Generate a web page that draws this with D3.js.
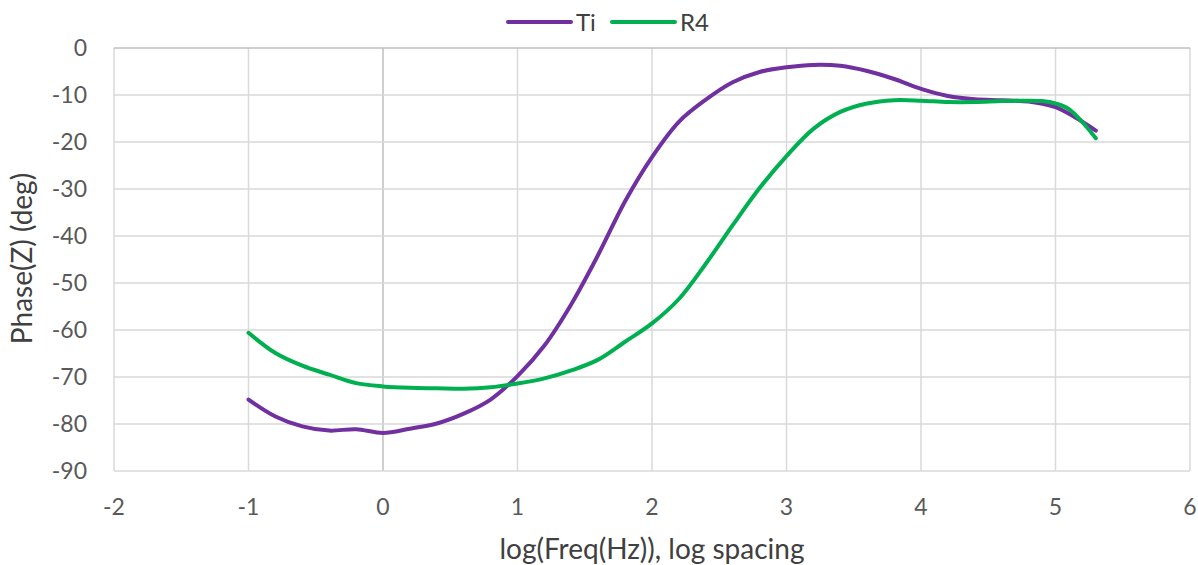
<!DOCTYPE html>
<html><head><meta charset="utf-8">
<script src="https://cdn.jsdelivr.net/npm/d3@7"></script>
<style>
html,body{margin:0;padding:0;background:#fff;}
svg{display:block;font-family:Lato,"Open Sans",sans-serif;}
</style></head>
<body><svg id="chart" width="1198" height="565"></svg>
<script>
const seriesNames = ["Ti", "R4"];
const seriesColors = ["#7030a0", "#00b050"];
const tiX = [-1.0,-0.8,-0.6,-0.4,-0.2,0.0,0.2,0.4,0.6,0.8,1.0,1.2,1.4,1.6,1.8,2.0,2.2,2.4,2.6,2.8,3.0,3.2,3.4,3.6,3.8,4.0,4.2,4.4,4.6,4.8,5.0,5.1,5.2,5.3];
const tiY = [-74.8,-78.4,-80.5,-81.4,-81.1,-81.9,-81.0,-79.9,-77.8,-74.8,-69.8,-63.3,-54.5,-44.0,-32.6,-23.2,-15.7,-11.0,-7.3,-5.1,-4.1,-3.6,-3.8,-4.9,-6.6,-8.7,-10.2,-10.9,-11.1,-11.4,-12.6,-14.0,-15.7,-17.6];
const r4X = [-1.0,-0.8,-0.6,-0.4,-0.2,0.0,0.2,0.4,0.6,0.8,1.0,1.2,1.4,1.6,1.8,2.0,2.2,2.4,2.6,2.8,3.0,3.2,3.4,3.6,3.8,4.0,4.2,4.4,4.6,4.8,4.9,5.0,5.1,5.2,5.3];
const r4Y = [-60.6,-64.9,-67.6,-69.5,-71.3,-72.0,-72.3,-72.4,-72.5,-72.2,-71.4,-70.3,-68.6,-66.3,-62.5,-58.6,-53.4,-45.9,-37.7,-29.8,-23.0,-17.2,-13.6,-11.8,-11.1,-11.2,-11.5,-11.5,-11.3,-11.2,-11.3,-11.8,-13.0,-15.8,-19.2];
const xTicks = [-2,-1,0,1,2,3,4,5,6];
const yTicks = [0,-10,-20,-30,-40,-50,-60,-70,-80,-90];
const xTitle = "log(Freq(Hz)), log spacing";
const yTitle = "Phase(Z) (deg)";

const svg = d3.select("#chart");
const m = {left:114, right:1190, top:48, bottom:471};
const x = d3.scaleLinear().domain([-2,6]).range([m.left, m.right]);
const y = d3.scaleLinear().domain([-90,0]).range([m.bottom, m.top]);

// gridlines
const g = svg.append("g");
g.selectAll(".vg").data(xTicks).enter().append("line")
  .attr("x1", d=>x(d)).attr("x2", d=>x(d)).attr("y1", m.top).attr("y2", m.bottom)
  .attr("stroke", d=> d===0 ? "#bfbfbf" : "#d9d9d9").attr("stroke-width", 1.5);
g.selectAll(".hg").data(yTicks).enter().append("line")
  .attr("x1", m.left).attr("x2", m.right).attr("y1", d=>y(d)).attr("y2", d=>y(d))
  .attr("stroke", d=> d===0 ? "#bfbfbf" : "#d9d9d9").attr("stroke-width", 1.5);

// tick labels
svg.append("g").selectAll("text").data(yTicks).enter().append("text")
  .attr("x", 87).attr("y", d=>y(d)).attr("dy", "0.36em").attr("text-anchor","end")
  .attr("font-size", 23).attr("fill", "#595959").text(d=>d);
svg.append("g").selectAll("text").data(xTicks).enter().append("text")
  .attr("x", d=>x(d)).attr("y", 507).attr("dy", "0.36em").attr("text-anchor","middle")
  .attr("font-size", 23).attr("fill", "#595959").text(d=>d);

// titles
svg.append("text").attr("x", (m.left+m.right)/2).attr("y", 549).attr("dy","0.36em").attr("text-anchor","middle")
  .attr("font-size", 28).attr("fill", "#404040").text(xTitle);
svg.append("text").attr("transform", `translate(22,${(m.top+m.bottom)/2-1}) rotate(-90)`)
  .attr("dy","0.36em").attr("text-anchor","middle").attr("font-size", 28).attr("fill", "#404040").text(yTitle);

// lines
const line = d3.line().x(d=>x(d[0])).y(d=>y(d[1])).curve(d3.curveCatmullRom.alpha(0.5));
const series = [d3.zip(tiX, tiY), d3.zip(r4X, r4Y)];
series.forEach((s,i)=>{
  svg.append("path").datum(s).attr("d", line).attr("fill","none")
    .attr("stroke", seriesColors[i]).attr("stroke-width", 4).attr("stroke-linecap","round");
});

// legend
const legX = [508, 612];
const leg = svg.append("g");
seriesNames.forEach((n,i)=>{
  leg.append("line").attr("x1", legX[i]).attr("x2", legX[i]+63).attr("y1", 22).attr("y2", 22)
    .attr("stroke", seriesColors[i]).attr("stroke-width", 4).attr("stroke-linecap","round");
  leg.append("text").attr("x", legX[i]+68).attr("y", 22).attr("dy","0.36em")
    .attr("font-size", 24).attr("fill", "#404040").text(n);
});
</script></body></html>
